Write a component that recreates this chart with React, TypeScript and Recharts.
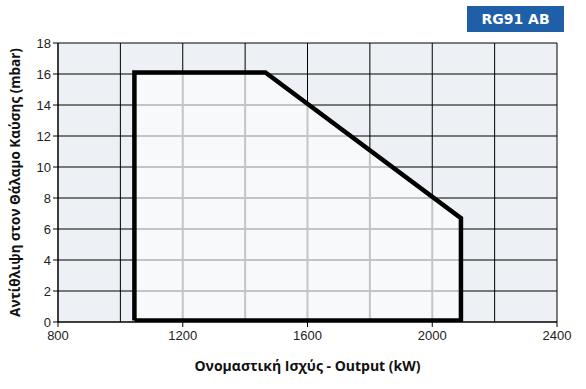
import { ComposedChart, Area, Line, XAxis, YAxis, CartesianGrid, ReferenceLine, Label } from 'recharts'

// operating field outline (kW, mbar)
const outline = [
  { x: 1045, y: 0.1 },
  { x: 1045, y: 16.1 },
  { x: 1465, y: 16.1 },
  { x: 2092, y: 6.7 },
  { x: 2092, y: 0.1 },
  { x: 1045, y: 0.1 },
]
const fieldTop = [
  { x: 1045, y: 16.1 },
  { x: 1465, y: 16.1 },
  { x: 2092, y: 6.7 },
]

const xTicks = [800, 1200, 1600, 2000, 2400]
const yTicks = [0, 2, 4, 6, 8, 10, 12, 14, 16, 18]
const xGrid = [800, 1000, 1200, 1400, 1600, 1800, 2000, 2200, 2400]
const innerX = [1200, 1400, 1600, 1800, 2000]
const innerY = [2, 4, 6, 8, 10, 12, 14, 16]

const topAt = (x: number) => {
  for (let i = 0; i < fieldTop.length - 1; i++) {
    const a = fieldTop[i], b = fieldTop[i + 1]
    if (x >= a.x && x <= b.x) return a.y + ((x - a.x) / (b.x - a.x)) * (b.y - a.y)
  }
  return 0
}
const rightAt = (y: number) => {
  const a = fieldTop[1], b = fieldTop[2]
  if (y <= b.y) return b.x
  return b.x + ((y - b.y) / (a.y - b.y)) * (a.x - b.x)
}

const tickStyle = { fill: '#222', fontSize: 13, fontFamily: 'Liberation Sans, Arial, sans-serif' }
const labelFont = 'Open Sans, Noto Sans, sans-serif'

export default function App() {
  return (
    <div style={{ position: 'absolute', left: 0, top: 0, width: 586, height: 389, background: '#fff' }}>
      <div
        style={{
          position: 'absolute',
          left: 467,
          top: 6,
          width: 97,
          height: 26,
          background: '#1f5fa8',
          color: '#fff',
          fontFamily: 'DejaVu Sans, sans-serif',
          fontWeight: 'bold',
          fontSize: 14,
          lineHeight: '26px',
          textAlign: 'center',
        }}
      >
        RG91 AB
      </div>
      <ComposedChart width={586} height={389} margin={{ top: 43, right: 29, bottom: 17, left: 8 }}>
        <CartesianGrid
          stroke="#000"
          strokeWidth={1}
          fill="#edf0f4"
          verticalValues={xGrid}
          horizontalValues={yTicks}
        />
        <XAxis
          type="number"
          dataKey="x"
          domain={[800, 2400]}
          ticks={xTicks}
          allowDataOverflow
          height={50}
          tick={tickStyle}
          tickSize={5}
          tickMargin={4}
          stroke="#000"
        >
          <Label
            value="Ονομαστική Ισχύς - Output (kW)"
            position="insideBottom"
            offset={1}
            style={{ fill: '#111', fontSize: 14, fontWeight: 700, fontFamily: labelFont }}
          />
        </XAxis>
        <YAxis
          type="number"
          dataKey="y"
          domain={[0, 18]}
          ticks={yTicks}
          allowDataOverflow
          width={50}
          tick={tickStyle}
          tickSize={5}
          tickMargin={2}
          stroke="#000"
        >
          <Label
            value="Αντίθλιψη στον Θάλαμο Καύσης (mbar)"
            angle={-90}
            position="insideLeft"
            offset={7}
            style={{ fill: '#111', fontSize: 13.5, fontWeight: 700, fontFamily: labelFont, textAnchor: 'middle' }}
          />
        </YAxis>
        <Area
          data={fieldTop}
          dataKey="y"
          type="linear"
          stroke="none"
          fill="#f8f9fb"
          fillOpacity={1}
          baseValue={0}
          isAnimationActive={false}
        />
        {innerX.map((x) => (
          <ReferenceLine
            key={`vx-${x}`}
            segment={[{ x, y: 0 }, { x, y: topAt(x) }]}
            stroke="#c4c4c4"
            strokeWidth={2}
          />
        ))}
        {innerY.map((y) => (
          <ReferenceLine
            key={`hy-${y}`}
            segment={[{ x: 1045, y }, { x: rightAt(y), y }]}
            stroke="#c4c4c4"
            strokeWidth={2}
          />
        ))}
        <Line
          data={outline}
          dataKey="y"
          type="linear"
          stroke="#000"
          strokeWidth={4.5}
          strokeLinejoin="miter"
          dot={false}
          activeDot={false}
          isAnimationActive={false}
        />
      </ComposedChart>
    </div>
  )
}
